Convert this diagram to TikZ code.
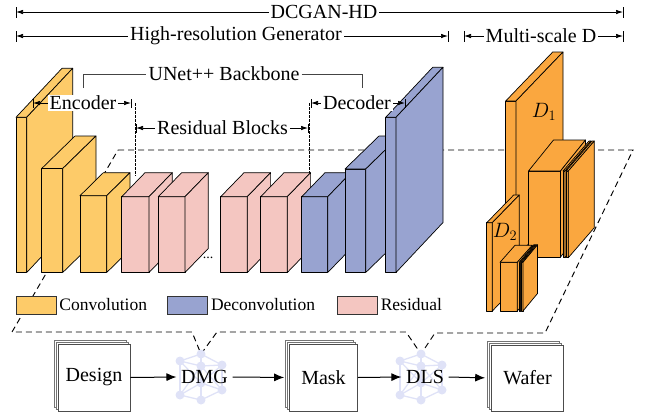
\documentclass[tikz,border=0pt]{standalone}
\usepackage{fontspec}
\setmainfont{Liberation Serif}
\usetikzlibrary{arrows.meta}
\definecolor{conv}{HTML}{FDCB69}
\definecolor{res}{HTML}{F4C6C1}
\definecolor{dec}{HTML}{98A3D0}
\definecolor{disc}{HTML}{FAA73F}
\definecolor{netc}{HTML}{DFE2F7}
\definecolor{brk}{HTML}{444444}
% cuboid: #1 colour, #2 x0, #3 x1, #4 top, #5 bottom, #6 dx, #7 dy
\newcommand\mycub[7]{%
  \filldraw[blk,fill=#1] (#2,#4) rectangle (#3,#5);
  \filldraw[blk,fill=#1] (#2,#4) -- ({#2+#6},{#4-#7}) -- ({#3+#6},{#4-#7}) -- (#3,#4) -- cycle;
  \filldraw[blk,fill=#1] (#3,#4) -- ({#3+#6},{#4-#7}) -- ({#3+#6},{#5-#7}) -- (#3,#5) -- cycle;
}
% stacked page: #1 name, #2 cx, #3 cy, #4 w, #5 h, #6 text
\newcommand\mypage[6]{%
  \foreach \s in {4,2}
    \filldraw[pg] ({#2-#4/2-\s},{#3-#5/2-\s}) rectangle ({#2+#4/2-\s},{#3+#5/2-\s});
  \node[page,minimum width=#4pt,minimum height=#5pt] (#1) at (#2,#3) {#6};
}
% network icon: #1 prefix, #2 cx, #3 cy
\newcommand\mynet[3]{%
  \coordinate (#1t) at (#2,{#3-23});
  \coordinate (#1ul) at ({#2-21},{#3-16});
  \coordinate (#1ur) at ({#2+21},{#3-12});
  \coordinate (#1m) at (#2,{#3-11});
  \coordinate (#1n) at (#2,{#3+6});
  \coordinate (#1ll) at ({#2-21},{#3+18});
  \coordinate (#1lr) at ({#2+21},{#3+13});
  \coordinate (#1b) at (#2,{#3+23});
  \foreach \a/\b in {t/ul,t/ur,t/m,ul/m,ur/m,ul/ll,ur/lr,m/n,m/ll,m/lr,n/ll,n/lr,ll/b,lr/b,n/b,ul/n,ur/n}
    \draw[netc,line width=1.3pt] (#1\a) -- (#1\b);
  \foreach \p in {t,ul,ur,m,n,ll,lr,b}
    \fill[netc] (#1\p) circle (4.5pt);
}
\begin{document}
\begin{tikzpicture}[x=1pt,y=-1pt,
  blk/.style={draw=black,line width=0.7pt,line join=round},
  pg/.style={draw=black!55,line width=0.5pt,fill=white},
  page/.style={draw=black!70,line width=0.6pt,fill=white,inner sep=0pt,font=\fontsize{20}{24}\selectfont},
  dimln/.style={line width=0.7pt,{Latex[length=7pt,width=4.5pt]}-{Latex[length=7pt,width=4.5pt]}},
  tick/.style={line width=0.7pt},
  lbl/.style={fill=white,inner xsep=2pt,inner ysep=1pt,font=\fontsize{20}{24}\selectfont},
  dsh/.style={dash pattern=on 6pt off 4pt,line width=0.95pt},
  flow/.style={line width=1pt,-{Latex[length=10pt,width=8pt]}},
  leg/.style={draw=black!80,line width=0.6pt,minimum width=40pt,minimum height=18pt,inner sep=0pt},
  legt/.style={anchor=west,inner sep=3pt,font=\fontsize{17.5}{20}\selectfont}]
\useasboundingbox (0,0) rectangle (646,416);

% ---- coordinates of the dashed outline
\coordinate (dtl) at (118,150);
\coordinate (dtr) at (633,150);
\coordinate (dbr) at (545,333);
\coordinate (dbl) at (12,332);
\coordinate (dmgtop) at (201,354);
\coordinate (dlstop) at (421,354);
\draw[dsh] (dtl) -- (dtr) -- (dbr) -- (435,333) -- (dlstop) -- (406,332) -- (217,332) -- (dmgtop) -- (192,332) -- (dbl) -- cycle;

% ---- generator blocks
\mycub{conv}{16}{26.7}{117.3}{272.5}{46}{49}
\mycub{conv}{41.7}{62.7}{168.5}{272.5}{33.3}{32.5}
\mycub{conv}{80}{106.7}{195.7}{272.5}{23.3}{23}
\mycub{res}{121.7}{149}{196.7}{272.5}{23.3}{24}
\mycub{res}{158.3}{185}{196.7}{272.5}{23.3}{24}
\node[font=\fontsize{14}{16}\selectfont,inner sep=0pt] (dots) at (208,258) {...};
\mycub{res}{220.7}{247.3}{196.7}{272.5}{23.3}{24}
\mycub{res}{260.7}{287.3}{196.7}{272.5}{23.3}{24}
\mycub{dec}{301.7}{327.7}{196.7}{272.5}{23.3}{24}
\mycub{dec}{345}{365.7}{169}{272.5}{34}{33}
\mycub{dec}{385.7}{396}{117.3}{272.5}{47}{50}

% ---- discriminators
\mycub{disc}{505.7}{516}{101}{257}{47}{49}
\node[inner sep=0pt,font=\fontsize{20}{24}\selectfont] (d1) at (544,112) {$D_1$};
\mycub{disc}{528.5}{560.5}{171}{257}{25}{31}
\mycub{disc}{563}{565}{171}{257.7}{26}{30}
\mycub{disc}{566}{568.3}{171}{257.7}{26}{30}
\mycub{disc}{486.7}{492.3}{222.7}{311}{27}{27.7}
\node[inner sep=0pt,font=\fontsize{20}{24}\selectfont] (d2) at (505,232) {$D_2$};
\mycub{disc}{500}{517.3}{262.3}{311}{15}{17}
\mycub{disc}{519.2}{520.7}{262.3}{311}{14.5}{17.5}
\mycub{disc}{521.5}{523}{262.3}{311}{14.5}{17.5}

% ---- dimension lines
\coordinate (a1) at (16,12);  \coordinate (a2) at (623,12);
\draw[dimln] (a1) -- (a2);
\draw[tick] ([yshift=-5.5pt]a1) -- ([yshift=5.5pt]a1);
\draw[tick] ([yshift=-5.5pt]a2) -- ([yshift=5.5pt]a2);
\node[lbl] (dcgan) at (324,12) {DCGAN-HD};

\coordinate (g1) at (16,36);  \coordinate (g2) at (448,36);
\draw[dimln] (g1) -- (g2);
\draw[tick] ([yshift=-5.5pt]g1) -- ([yshift=5.5pt]g1);
\draw[tick] ([yshift=-5.5pt]g2) -- ([yshift=5.5pt]g2);
\node[lbl] (gen) at (236,36) {High-resolution Generator};

\coordinate (m1) at (464,36);  \coordinate (m2) at (623,36);
\draw[dimln] (m1) -- (m2);
\draw[tick] ([yshift=-5.5pt]m1) -- ([yshift=5.5pt]m1);
\draw[tick] ([yshift=-5.5pt]m2) -- ([yshift=5.5pt]m2);
\node[lbl] (msd) at (541,36) {Multi-scale D};

% UNet++ bracket
\node[lbl] (unet) at (224,74) {UNet++ Backbone};
\draw[brk,line width=0.7pt] (83,88) -- (83,74) -- (unet.west);
\draw[brk,line width=0.7pt] (unet.east) -- (362,74) -- (362,88);

% dashed separators
\coordinate (s1t) at (135,103); \coordinate (s1b) at (135,176);
\coordinate (s2t) at (309,103); \coordinate (s2b) at (309,173);
\draw[dash pattern=on 2.5pt off 1.5pt,line width=0.6pt] (s1t) -- (s1b);
\draw[dash pattern=on 2.5pt off 1.5pt,line width=0.6pt] (s2t) -- (s2b);

\coordinate (e1) at (33,103); \coordinate (e2) at (131,103);
\draw[dimln] (e1) -- (e2);
\draw[tick] ([yshift=-4.5pt]e1) -- ([yshift=4.5pt]e1);
\draw[tick] ([yshift=-4.5pt]e2) -- ([yshift=4.5pt]e2);
\node[lbl] (enc) at (83,103) {Encoder};

\coordinate (r1) at (136,128); \coordinate (r2) at (308,128);
\draw[dimln] (r1) -- (r2);
\draw[tick] ([yshift=-4.5pt]r1) -- ([yshift=4.5pt]r1);
\draw[tick] ([yshift=-4.5pt]r2) -- ([yshift=4.5pt]r2);
\node[lbl] (resb) at (222.5,128) {Residual Blocks};

\coordinate (c1) at (311,103); \coordinate (c2) at (405,103);
\draw[dimln] (c1) -- (c2);
\draw[tick] ([yshift=-4.5pt]c1) -- ([yshift=4.5pt]c1);
\draw[tick] ([yshift=-4.5pt]c2) -- ([yshift=4.5pt]c2);
\node[lbl] (decl) at (357,103) {Decoder};

% ---- legend
\node[leg,fill=conv] (lconv) at (36,305) {};
\node[legt] (tconv) at (lconv.east) {Convolution};
\node[leg,fill=dec] (ldec) at (187.5,305) {};
\node[legt] (tdec) at (ldec.east) {Deconvolution};
\node[leg,fill=res] (lres) at (357.3,305) {};
\node[legt] (tres) at (lres.east) {Residual};

% ---- pipeline
\mynet{n1}{201}{377}
\mynet{n2}{421}{377}
\mypage{design}{94}{377.5}{72}{67}{Design}
\mypage{mask}{323.5}{377.5}{68}{67}{Mask}
\mypage{wafer}{527.5}{378}{72}{66}{Wafer}
\node[inner xsep=4.5pt,font=\fontsize{20}{24}\selectfont] (dmg) at (204.5,377) {DMG};
\node[inner xsep=4.5pt,font=\fontsize{20}{24}\selectfont] (dls) at (425,377) {DLS};
\draw[flow] (design.east) -- (dmg.west);
\draw[flow,shorten >=5pt] (dmg.east) -- (mask.west);
\draw[flow] (mask.east) -- (dls.west);
\draw[flow,shorten >=6pt] (dls.east) -- (wafer.west);
\end{tikzpicture}
\end{document}
